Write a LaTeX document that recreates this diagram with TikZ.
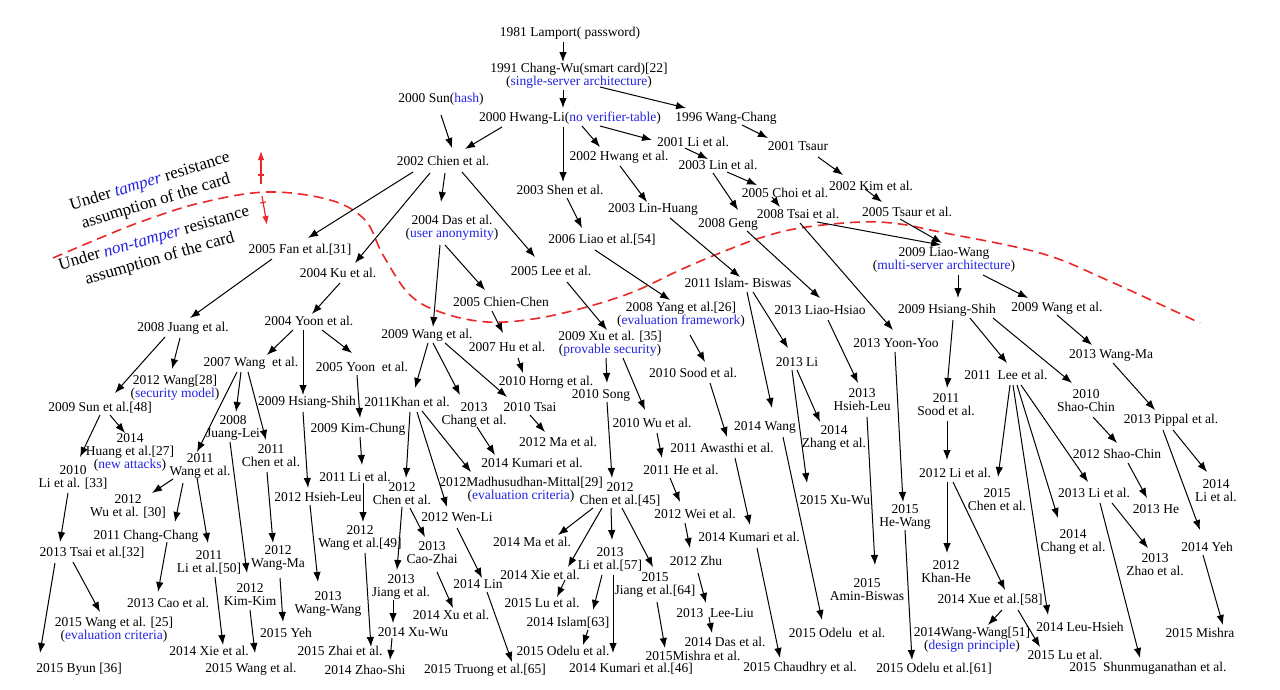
\documentclass[tikz,border=0pt]{standalone}
\usepackage{fontspec}
\setmainfont{Liberation Serif}
\usetikzlibrary{arrows.meta}
\definecolor{myblue}{RGB}{35,35,225}
\definecolor{myred}{RGB}{235,40,40}
\newcommand\blu[1]{\textcolor{myblue}{#1}}
\newcommand\myln[4]{\draw[arr] ([shift={(#2)}]#1.center) -- ([shift={(#4)}]#3.center);}
\tikzset{
  lbl/.style={inner sep=0pt, align=center, font=\fontsize{13.5}{13}\selectfont},
  rot/.style={inner sep=0pt, align=center, font=\fontsize{17}{21}\selectfont},
  arr/.style={line width=1pt, -{Latex[length=10pt,width=7.5pt]}},
  redarr/.style={myred, line width=1.2pt, -{Latex[length=9pt,width=6.5pt]}},
}
\begin{document}
\begin{tikzpicture}[x=1pt,y=-1pt]
\fill[white] (0,0) rectangle (1280,689);
\useasboundingbox (0,0) rectangle (1280,689);

% dashed boundary
\draw[myred, line width=1.6pt, dash pattern=on 10pt off 6pt] plot[smooth, tension=0.6] coordinates {
(53,258) (100,238) (143,221) (200,203) (267,192) (330,200) (365,220) (383,255) (410,295) (443,313) (487,322) (533,319) (583,308) (633,292) (680,270) (720,253) (760,238) (800,228) (860,222) (900,224) (940,232) (1040,253) (1107,280) (1200,323)};

% side labels
\node[rot, rotate=17] (tamper) at (153,192) {Under \blu{\textit{tamper}} resistance\\assumption of the card};
\node[rot, rotate=16] (nontamper) at (157,249) {Under \blu{\textit{non-tamper}} resistance\\assumption of the card};

% red arrows
\coordinate (ua0) at (261,184); \coordinate (ua1) at (261,151);
\coordinate (ut0) at (258,175); \coordinate (ut1) at (264,175);
\coordinate (da0) at (262,196); \coordinate (da1) at (267,225);
\coordinate (dt0) at (260,203); \coordinate (dt1) at (266,202);
\draw[redarr] (ua0) -- (ua1);
\draw[myred, line width=1.1pt] (ut0) -- (ut1);
\draw[redarr] (da0) -- (da1);
\draw[myred, line width=1.1pt] (dt0) -- (dt1);

% nodes
\node[lbl] (lamport) at (570,33) {1981 Lamport( password)};
\node[lbl] (changwu) at (579,76) {1991 Chang-Wu(smart card)[22]\\(\blu{single-server architecture})};
\node[lbl] (sun) at (441,99) {2000 Sun(\blu{hash})};
\node[lbl] (hwangli) at (570,118) {2000 Hwang-Li(\blu{no verifier-table})};
\node[lbl] (wangchang) at (726,118) {1996 Wang-Chang};
\node[lbl] (chien) at (443,161) {2002 Chien et al.};
\node[lbl] (li01) at (693,142) {2001 Li et al.};
\node[lbl] (hwang02) at (619,157) {2002 Hwang et al.};
\node[lbl] (shen) at (560,190) {2003 Shen et al.};
\node[lbl] (tsaur01) at (798,146) {2001 Tsaur};
\node[lbl] (lin03) at (718,165) {2003 Lin et al.};
\node[lbl] (choi) at (785,193) {2005 Choi et al.};
\node[lbl] (tsai08) at (798,214) {2008 Tsai et al.};
\node[lbl] (geng) at (728,224) {2008 Geng};
\node[lbl] (linhuang) at (653,209) {2003 Lin-Huang};
\node[lbl] (liao06) at (602,240) {2006 Liao et al.[54]};
\node[lbl] (das) at (452,228) {2004 Das et al.\\(\blu{user anonymity})};
\node[lbl] (kim02) at (871,186) {2002 Kim et al.};
\node[lbl] (tsaur05) at (907,212) {2005 Tsaur et al.};
\node[lbl] (fan) at (300,250) {2005 Fan et al.[31]};
\node[lbl] (ku) at (338,273) {2004 Ku et al.};
\node[lbl] (juang) at (183,328) {2008 Juang et al.};
\node[lbl] (yoon04) at (309,321) {2004 Yoon et al.};
\node[lbl] (wang07) at (251,363) {2007 Wang~ et al.};
\node[lbl] (wang28) at (175,388) {2012 Wang[28]\\(\blu{security model})};
\node[lbl] (sun09) at (100,408) {2009 Sun et al.[48]};
\node[lbl] (hsiangL) at (307,402) {2009 Hsiang-Shih};
\node[lbl] (yoon05) at (362,367) {2005 Yoon~ et al.};
\node[lbl] (juanglei) at (233,428) {2008\\Juang-Lei};
\node[lbl] (chen11) at (271,456) {2011\\Chen et al.};
\node[lbl] (wang11) at (200,466) {2011\\Wang et al.};
\node[lbl] (khan) at (407,402) {2011Khan et al.};
\node[lbl] (kimchung) at (358,429) {2009 Kim-Chung};
\node[lbl] (li11) at (355,477) {2011 Li et al.};
\node[lbl] (hsiehleuL) at (318,497) {2012 Hsieh-Leu};
\node[lbl] (chen12) at (402,494) {2012\\Chen et al.};
\node[lbl] (wenli) at (457,517) {2012 Wen-Li};
\node[lbl] (wang09) at (427,335) {2009 Wang et al.};
\node[lbl] (chienchen) at (501,302) {2005 Chien-Chen};
\node[lbl] (hu07) at (507,347) {2007 Hu et al.};
\node[lbl] (horng) at (546,382) {2010 Horng et al.};
\node[lbl] (tsai10) at (530,407) {2010 Tsai};
\node[lbl] (chang13) at (474,415) {2013\\Chang et al.};
\node[lbl] (ma12) at (558,442) {2012 Ma et al.};
\node[lbl] (kumariA) at (532,463) {2014 Kumari et al.};
\node[lbl] (madhu) at (521,490) {2012Madhusudhan-Mittal[29]\\(\blu{evaluation criteria})};
\node[lbl] (lee05) at (551,271) {2005 Lee et al.};
\node[lbl] (xu09) at (610,344) {2009 Xu et al. [35]\\(\blu{provable security})};
\node[lbl] (yang08) at (681,315) {2008 Yang et al.[26]\\(\blu{evaluation framework})};
\node[lbl] (song10) at (601,395) {2010 Song};
\node[lbl] (wu10) at (652,423) {2010 Wu et al.};
\node[lbl] (sood10) at (693,373) {2010 Sood et al.};
\node[lbl] (awasthi) at (722,448) {2011 Awasthi et al.};
\node[lbl] (kumariB) at (749,537) {2014 Kumari et al.};
\node[lbl] (wang14) at (765,427) {2014 Wang};
\node[lbl] (odeluB) at (837,633) {2015 Odelu~ et al.};
\node[lbl] (islam) at (738,283) {2011 Islam- Biswas};
\node[lbl] (li13) at (797,362) {2013 Li};
\node[lbl] (zhang14) at (834,438) {2014\\Zhang et al.};
\node[lbl] (xuwu15) at (835,500) {2015 Xu-Wu};
\node[lbl] (liaohsiao) at (820,310) {2013 Liao-Hsiao};
\node[lbl] (hsiehleuR) at (862,400) {2013\\Hsieh-Leu};
\node[lbl] (aminbiswas) at (867,590) {2015\\Amin-Biswas};
\node[lbl] (yoonyoo) at (896,343) {2013 Yoon-Yoo};
\node[lbl] (hewang) at (905,517) {2015\\He-Wang};
\node[lbl] (odelu61) at (934,669) {2015 Odelu et al.[61]};
\node[lbl] (liaowang) at (944,260) {2009 Liao-Wang\\(\blu{multi-server architecture})};
\node[lbl] (hsiangR) at (947,310) {2009 Hsiang-Shih};
\node[lbl] (wang09R) at (1057,308) {2009 Wang et al.};
\node[lbl] (wangma13) at (1111,355) {2013 Wang-Ma};
\node[lbl] (pippal) at (1171,420) {2013 Pippal et al.};
\node[lbl] (sood11) at (946,405) {2011\\Sood et al.};
\node[lbl] (lee11) at (1006,375) {2011~ Lee et al.};
\node[lbl] (shaochin10) at (1086,401) {2010\\Shao-Chin};
\node[lbl] (shaochin12) at (1117,454) {2012 Shao-Chin};
\node[lbl] (he13) at (1156,509) {2013 He};
\node[lbl] (li14) at (1216,491) {2014\\Li et al.};
\node[lbl] (yeh14) at (1207,547) {2014 Yeh};
\node[lbl] (mishra) at (1200,633) {2015 Mishra};
\node[lbl] (li12) at (955,473) {2012 Li et al.};
\node[lbl] (khanhe) at (946,572) {2012\\Khan-He};
\node[lbl] (xue) at (990,600) {2014 Xue et al.[58]};
\node[lbl] (wangwang14) at (972,640) {2014Wang-Wang[51]\\(\blu{design principle})};
\node[lbl] (luB) at (1065,655) {2015 Lu et al.};
\node[lbl] (chen15) at (997,500) {2015\\Chen et al.};
\node[lbl] (chang14) at (1073,542) {2014\\Chang et al.};
\node[lbl] (leuhsieh) at (1080,627) {2014 Leu-Hsieh};
\node[lbl] (li13b) at (1094,493) {2013 Li et al.};
\node[lbl] (zhao13) at (1155,565) {2013\\Zhao et al.};
\node[lbl] (shun) at (1148,668) {2015~ Shunmuganathan et al.};
\node[lbl] (huang14) at (130,452) {2014\\Huang et al.[27]\\(\blu{new attacks})};
\node[lbl] (li10) at (73,477) {2010\\Li et al. [33]};
\node[lbl] (tsai13) at (92,553) {2013 Tsai et al.[32]};
\node[lbl] (byun) at (79,669) {2015 Byun [36]};
\node[lbl] (wang25) at (114,630) {2015 Wang et al. [25]\\(\blu{evaluation criteria})};
\node[lbl] (wu12) at (128,506) {2012\\Wu et al. [30]};
\node[lbl] (changchang) at (146,536) {2011 Chang-Chang};
\node[lbl] (li50) at (209,562) {2011\\Li et al.[50]};
\node[lbl] (cao13) at (168,603) {2013 Cao et al.};
\node[lbl] (xieA) at (209,651) {2014 Xie et al.};
\node[lbl] (kimkim) at (250,594) {2012\\Kim-Kim};
\node[lbl] (wang15) at (251,669) {2015 Wang et al.};
\node[lbl] (wangma12) at (278,558) {2012\\Wang-Ma};
\node[lbl] (yeh15) at (286,633) {2015 Yeh};
\node[lbl] (wangwang13) at (328,604) {2013\\Wang-Wang};
\node[lbl] (wang49) at (360,538) {2012\\Wang et al.[49]};
\node[lbl] (zhai) at (340,651) {2015 Zhai et al.};
\node[lbl] (caozhai) at (432,553) {2013\\Cao-Zhai};
\node[lbl] (jiang13) at (401,587) {2013\\Jiang et al.};
\node[lbl] (xuwu14) at (413,632) {2014 Xu-Wu};
\node[lbl] (zhaoshi) at (365,670) {2014 Zhao-Shi};
\node[lbl] (xu14) at (451,615) {2014 Xu et al.};
\node[lbl] (lin14) at (478,584) {2014 Lin};
\node[lbl] (truong) at (485,670) {2015 Truong et al.[65]};
\node[lbl] (chen45) at (620,494) {2012\\Chen et al.[45]};
\node[lbl] (ma14) at (532,542) {2014 Ma et al.};
\node[lbl] (xieB) at (540,575) {2014 Xie et al.};
\node[lbl] (luA) at (542,603) {2015 Lu et al.};
\node[lbl] (li57) at (610,559) {2013\\Li et al.[57]};
\node[lbl] (jiang64) at (655,585) {2015\\Jiang et al.[64]};
\node[lbl] (islam14) at (568,623) {2014 Islam[63]};
\node[lbl] (odeluA) at (563,651) {2015 Odelu et al.};
\node[lbl] (kumari46) at (631,669) {2014 Kumari et al.[46]};
\node[lbl] (mishra15) at (693,656) {2015Mishra et al.};
\node[lbl] (he11) at (681,470) {2011 He et al.};
\node[lbl] (wei12) at (695,514) {2012 Wei et al.};
\node[lbl] (zhu12) at (696,561) {2012 Zhu};
\node[lbl] (leeliu) at (715,613) {2013~ Lee-Liu};
\node[lbl] (das14) at (725,642) {2014 Das et al.};
\node[lbl] (chaudhry) at (800,668) {2015 Chaudhry et al.};

% connectors
\myln{lamport}{-7,9}{changwu}{-16,-14}
\myln{changwu}{-16,14}{hwangli}{-7,-10}
\myln{changwu}{21,11}{wangchang}{-40,-10}
\myln{sun}{0,16}{chien}{9,-13}
\myln{hwangli}{-68,9}{chien}{22,-12}
\myln{hwangli}{30,8}{li01}{-41,-2}
\myln{hwangli}{12,8}{hwang02}{-19,-10}
\myln{hwangli}{-7,9}{shen}{3,-8}
\myln{wangchang}{16,7}{tsaur01}{-30,-8}
\myln{li01}{-8,6}{lin03}{-10,-6}
\myln{lin03}{9,7}{choi}{-28,-8}
\myln{choi}{-13,4}{tsai08}{-18,-7}
\myln{lin03}{-5,8}{geng}{10,-14}
\myln{hwang02}{1,9}{linhuang}{-6,-7}
\myln{shen}{7,8}{liao06}{-20,-12}
\myln{chien}{2,12}{das}{-11,-26}
\myln{tsaur01}{20,11}{kim02}{-28,-11}
\myln{kim02}{-6,3}{tsaur05}{-25,-10}
\myln{chien}{-30,11}{fan}{8,-12}
\myln{chien}{-13,12}{ku}{17,-10}
\myln{chien}{19,11}{lee05}{-16,-14}
\myln{fan}{-28,9}{juang}{7,-10}
\myln{ku}{2,10}{yoon04}{3,-7}
\myln{yoon04}{-16,9}{wang07}{16,-8}
\myln{juang}{-3,10}{wang28}{-3,-19}
\myln{juang}{-18,9}{sun09}{15,-15}
\myln{yoon04}{-6,9}{hsiangL}{-4,-7}
\myln{yoon04}{13,9}{yoon05}{-10,-14}
\myln{wang07}{-14,9}{wang11}{-3,-14}
\myln{wang07}{-10,9}{juanglei}{3,-16}
\myln{wang07}{-3,9}{chen11}{-5,-16}
\myln{yoon05}{-5,8}{kimchung}{2,-11}
\myln{kimchung}{2,8}{li11}{7,-12}
\myln{hsiangL}{-4,10}{hsiehleuL}{-10,-9}
\myln{khan}{3,10}{chen12}{4,-16}
\myln{khan}{10,10}{wenli}{-10,-10}
\myln{khan}{15,9}{madhu}{-50,-18}
\myln{wang09}{1,8}{khan}{8,-14}
\myln{wang09}{6,8}{chang13}{-14,-20}
\myln{wang09}{18,8}{tsai10}{-23,-10}
\myln{das}{-12,17}{wang09}{6,-8}
\myln{das}{-7,17}{chienchen}{-16,-12}
\myln{chienchen}{-9,9}{hu07}{-4,-14}
\myln{hu07}{11,11}{horng}{-23,-9}
\myln{tsai10}{0,8}{ma12}{-13,-10}
\myln{chang13}{3,12}{kumariA}{-37,-8}
\myln{lee05}{16,11}{xu09}{-3,-14}
\myln{liao06}{-7,10}{yang08}{-11,-15}
\myln{xu09}{-4,14}{song10}{6,-12}
\myln{xu09}{13,14}{wu10}{-7,-13}
\myln{yang08}{9,20}{sood10}{12,-11}
\myln{sood10}{17,10}{awasthi}{5,-11}
\myln{awasthi}{13,10}{kumariB}{1,-12}
\myln{wang14}{18,10}{odeluB}{-15,-13}
\myln{islam}{9,9}{wang14}{7,-19}
\myln{linhuang}{17,9}{islam}{2,-6}
\myln{islam}{15,9}{li13}{-9,-14}
\myln{li13}{0,8}{zhang14}{-14,-16}
\myln{li13}{-5,8}{xuwu15}{-28,-17}
\myln{geng}{19,7}{liaohsiao}{0,-12}
\myln{liaohsiao}{8,10}{hsiehleuR}{-4,-17}
\myln{hsiehleuR}{5,17}{aminbiswas}{8,-25}
\myln{tsai08}{2,9}{yoonyoo}{-3,-13}
\myln{tsai08}{19,8}{liaowang}{-3,-15}
\myln{tsaur05}{-7,7}{liaowang}{-2,-17}
\myln{yoonyoo}{-1,9}{hewang}{-2,-15}
\myln{hewang}{0,13}{odelu61}{-22,-9}
\myln{liaowang}{14,15}{hsiangR}{11,-12}
\myln{liaowang}{39,15}{wang09R}{-29,-10}
\myln{wang09R}{0,7}{wangma13}{-19,-10}
\myln{wangma13}{2,8}{pippal}{-16,-10}
\myln{hsiangR}{6,10}{sood11}{1,-17}
\myln{hsiangR}{23,8}{lee11}{1,-12}
\myln{hsiangR}{46,8}{shaochin10}{-14,-18}
\myln{shaochin10}{7,16}{shaochin12}{0,-11}
\myln{shaochin12}{11,9}{he13}{-9,-11}
\myln{pippal}{2,10}{li14}{-9,-19}
\myln{pippal}{-8,10}{yeh14}{-7,-17}
\myln{yeh14}{-4,8}{mishra}{23,-8}
\myln{sood11}{1,16}{li12}{-8,-13}
\myln{li12}{-8,9}{khanhe}{1,-19}
\myln{li12}{-2,9}{xue}{15,-10}
\myln{xue}{12,10}{wangwang14}{16,-15}
\myln{xue}{28,10}{luB}{-25,-8}
\myln{lee11}{4,10}{chen15}{1,-23}
\myln{lee11}{7,10}{leuhsieh}{-32,-12}
\myln{lee11}{11,10}{chang14}{-15,-24}
\myln{lee11}{15,10}{li13b}{-6,-11}
\myln{li13b}{18,10}{zhao13}{-7,-17}
\myln{li13b}{6,10}{shun}{-8,-10}
\myln{sun09}{10,7}{huang14}{-5,-19}
\myln{sun09}{0,7}{li10}{7,-20}
\myln{li10}{-5,16}{tsai13}{-32,-11}
\myln{tsai13}{-37,10}{byun}{-39,-16}
\myln{tsai13}{-19,9}{wang25}{-14,-18}
\myln{wang11}{-27,13}{wu12}{24,-13}
\myln{wang11}{-17,17}{changchang}{29,-14}
\myln{wang11}{-3,12}{li50}{-1,-19}
\myln{changchang}{21,6}{cao13}{-10,-11}
\myln{li50}{6,15}{xieA}{14,-6}
\myln{juanglei}{-3,14}{kimkim}{-3,-21}
\myln{kimkim}{0,16}{wang15}{4,-16}
\myln{chen11}{-4,16}{wangma12}{-5,-15}
\myln{wangma12}{2,20}{yeh15}{-3,-11}
\myln{hsiehleuL}{-8,8}{wangwang13}{-10,-22}
\myln{li11}{8,6}{wang49}{3,-16}
\myln{wang49}{5,15}{zhai}{31,-4}
\myln{chen12}{0,13}{jiang13}{-4,-17}
\myln{chen12}{8,14}{caozhai}{-7,-16}
\myln{jiang13}{-8,13}{xuwu14}{-20,-9}
\myln{xuwu14}{-21,6}{zhaoshi}{25,-10}
\myln{caozhai}{5,19}{xu14}{2,-7}
\myln{wenli}{0,11}{lin14}{4,-6}
\myln{lin14}{9,8}{truong}{27,-8}
\myln{song10}{6,7}{chen45}{-8,-16}
\myln{chen45}{-27,14}{ma14}{26,-7}
\myln{chen45}{-18,14}{xieB}{28,-8}
\myln{xieB}{25,5}{luA}{15,-6}
\myln{chen45}{-9,14}{li57}{2,-19}
\myln{chen45}{2,14}{jiang64}{-2,-18}
\myln{li57}{-8,16}{islam14}{25,-13}
\myln{islam14}{20,7}{odeluA}{20,-6}
\myln{li57}{3,16}{kumari46}{-18,-16}
\myln{jiang64}{2,17}{mishra15}{-28,-8}
\myln{wu10}{5,10}{he11}{-19,-12}
\myln{he11}{-11,8}{wei12}{-15,-12}
\myln{wei12}{-10,9}{zhu12}{-6,-13}
\myln{zhu12}{2,12}{leeliu}{-9,-10}
\myln{leeliu}{-6,4}{das14}{-13,-9}
\myln{kumariB}{8,11}{chaudhry}{-20,-10}
\end{tikzpicture}
\end{document}
